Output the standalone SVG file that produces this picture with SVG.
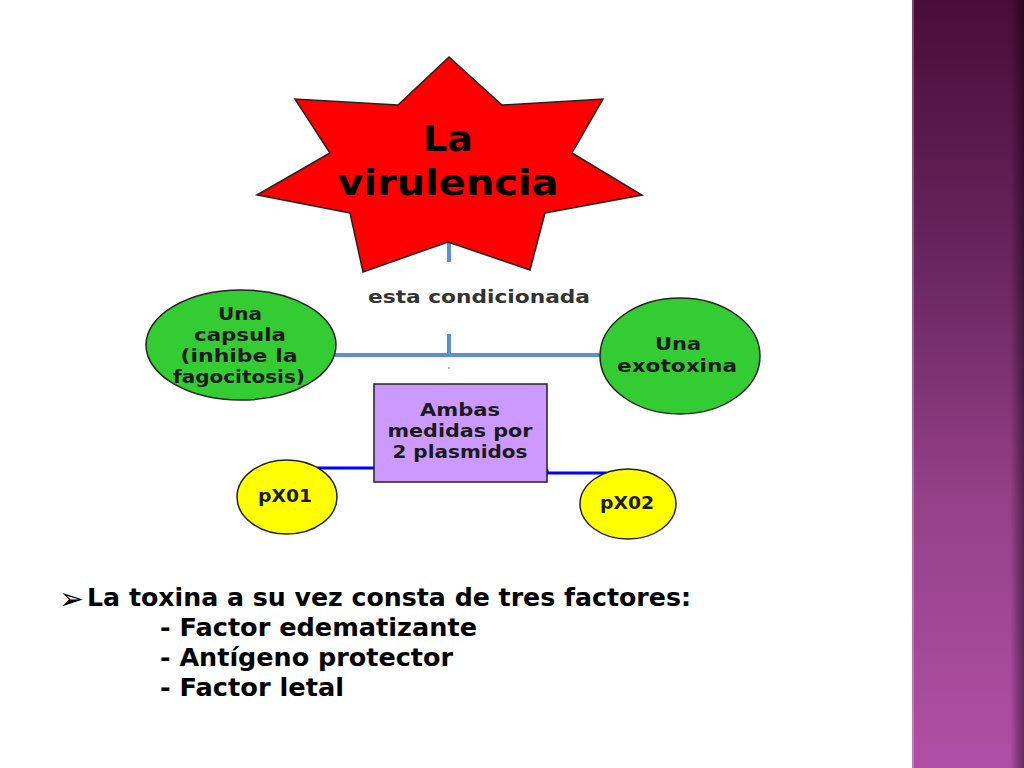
<svg xmlns="http://www.w3.org/2000/svg" width="1024" height="768" viewBox="0 0 1024 768">
<defs>
<linearGradient id="side" x1="0" y1="0" x2="0" y2="1">
<stop offset="0" stop-color="#4a0c38"/>
<stop offset="0.35" stop-color="#6a2660"/>
<stop offset="0.65" stop-color="#954088"/>
<stop offset="1" stop-color="#b04fa6"/>
</linearGradient>
<linearGradient id="shade" x1="0" y1="0" x2="1" y2="0">
<stop offset="0" stop-color="#000" stop-opacity="0"/>
<stop offset="1" stop-color="#000" stop-opacity="0.45"/>
</linearGradient>
</defs>
<style>
.lbl{font-family:"DejaVu Sans","Liberation Sans",sans-serif;font-weight:bold;text-anchor:middle;fill:#1a1a1a;font-size:18px}
.big{font-family:"DejaVu Sans","Liberation Sans",sans-serif;font-weight:bold;text-anchor:middle;fill:#000;font-size:36px}
.body{font-family:"DejaVu Sans","Liberation Sans",sans-serif;font-weight:bold;fill:#000;font-size:24px}
.conn{stroke:#5b8fd0;stroke-width:4;fill:none}
.blue{stroke:#0000ff;stroke-width:3;fill:none}
.node{stroke:#222;stroke-width:1.5}
</style>
<rect width="1024" height="768" fill="#fff"/>
<g id="sidebar">
<rect x="912" y="0" width="112" height="768" fill="url(#side)"/>
<rect x="912" y="0" width="2" height="768" fill="#fff" opacity="0.25"/>
<rect x="1010" y="0" width="14" height="768" fill="url(#shade)"/>
</g>
<g id="connectors">
<line class="conn" x1="449" y1="242" x2="449" y2="262"/>
<line class="conn" x1="449" y1="334" x2="449" y2="355"/>
<line class="conn" x1="335" y1="355" x2="602" y2="355"/>
<circle cx="449" cy="368" r="1" fill="#8aa8d0"/>
<line class="blue" x1="316" y1="468" x2="375" y2="468"/>
<line class="blue" x1="546" y1="473" x2="607" y2="473"/>
<circle cx="546" cy="471" r="2.5" fill="#0000ff"/>
</g>
<g id="star">
<polygon class="node" fill="#ff0000" points="449,57 502,105 603,99 572,153 642,195 545,213 530,270 448,242 363,272 350,213 257,195 330,153 295,99 398,105"/>
<text class="big" x="448" y="151" textLength="50" lengthAdjust="spacingAndGlyphs">La</text>
<text class="big" x="448" y="195" textLength="221" lengthAdjust="spacingAndGlyphs">virulencia</text>
</g>
<g id="label-condicionada">
<text class="lbl" x="479" y="303" style="font-size:17px;fill:#333" textLength="222" lengthAdjust="spacingAndGlyphs">esta condicionada</text>
</g>
<g id="capsula">
<ellipse class="node" cx="241" cy="345" rx="95" ry="55" fill="#33cc33"/>
<text class="lbl" x="240" y="320" textLength="44" lengthAdjust="spacingAndGlyphs">Una</text>
<text class="lbl" x="240" y="341" textLength="92" lengthAdjust="spacingAndGlyphs">capsula</text>
<text class="lbl" x="239" y="362" textLength="117" lengthAdjust="spacingAndGlyphs">(inhibe la</text>
<text class="lbl" x="239" y="383" textLength="132" lengthAdjust="spacingAndGlyphs">fagocitosis)</text>
</g>
<g id="exotoxina">
<ellipse class="node" cx="680" cy="356" rx="80" ry="58" fill="#33cc33"/>
<text class="lbl" x="678" y="350" textLength="46" lengthAdjust="spacingAndGlyphs">Una</text>
<text class="lbl" x="677" y="372" textLength="120" lengthAdjust="spacingAndGlyphs">exotoxina</text>
</g>
<g id="ambas">
<rect class="node" x="374" y="384" width="173" height="98" fill="#cc99ff"/>
<text class="lbl" x="460" y="416" textLength="80" lengthAdjust="spacingAndGlyphs">Ambas</text>
<text class="lbl" x="460" y="437" textLength="145" lengthAdjust="spacingAndGlyphs">medidas por</text>
<text class="lbl" x="460" y="458" textLength="135" lengthAdjust="spacingAndGlyphs">2 plasmidos</text>
</g>
<g id="px01">
<ellipse class="node" cx="287" cy="497" rx="50" ry="37" fill="#ffff00"/>
<text class="lbl" x="285" y="502" textLength="54" lengthAdjust="spacingAndGlyphs">pX01</text>
</g>
<g id="px02">
<ellipse class="node" cx="628" cy="504" rx="48" ry="35" fill="#ffff00"/>
<text class="lbl" x="627" y="509" textLength="54" lengthAdjust="spacingAndGlyphs">pX02</text>
</g>
<g id="bullets">
<text x="59" y="609" font-family="DejaVu Sans, sans-serif" font-size="30" fill="#000">➢</text>
<text class="body" x="87" y="606" textLength="604" lengthAdjust="spacingAndGlyphs">La toxina a su vez consta de tres factores:</text>
<text class="body" x="160" y="636" textLength="317" lengthAdjust="spacingAndGlyphs">- Factor edematizante</text>
<text class="body" x="160" y="666" textLength="293" lengthAdjust="spacingAndGlyphs">- Antígeno protector</text>
<text class="body" x="160" y="696" textLength="184" lengthAdjust="spacingAndGlyphs">- Factor letal</text>
</g>
</svg>
